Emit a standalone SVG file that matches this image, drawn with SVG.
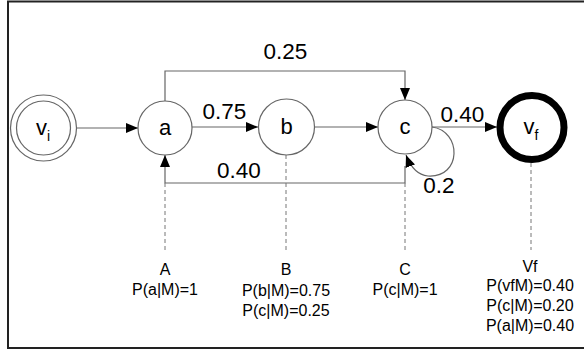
<svg xmlns="http://www.w3.org/2000/svg" width="584" height="349" viewBox="0 0 584 349">
<defs>
<marker id="arr" viewBox="0 0 12 10" refX="12" refY="5" markerWidth="12" markerHeight="10" markerUnits="userSpaceOnUse" orient="auto">
<path d="M0,0 L12,5 L0,10 Z" fill="#000"/>
</marker>
<style>
.ln{fill:none;stroke:#666;stroke-width:1.2}
.ds{fill:none;stroke:#777;stroke-width:1;stroke-dasharray:4,3}
.nd{fill:#fff;stroke:#666;stroke-width:1.2}
.nt{font-family:"Liberation Sans",Arial,sans-serif;font-size:22px;fill:#000;text-anchor:middle}
.el{font-family:"Liberation Sans",Arial,sans-serif;font-size:22.5px;fill:#000;text-anchor:middle}
.lb{font-family:"Liberation Sans",Arial,sans-serif;font-size:16px;fill:#000;text-anchor:middle}
</style>
</defs>
<rect x="8" y="1.5" width="590" height="346.5" fill="#fff" stroke="#222" stroke-width="2"/>
<g id="connectors">
<path class="ln" d="M77,128 H138" marker-end="url(#arr)"/>
<path class="ln" d="M192,127 H258" marker-end="url(#arr)"/>
<path class="ln" d="M315,127 H378" marker-end="url(#arr)"/>
<path class="ln" d="M432,127 H497" marker-end="url(#arr)"/>
<path class="ln" d="M165,101 V71 H405 V100" marker-end="url(#arr)"/>
<path class="ln" d="M405,166 V183 H165 V155" marker-end="url(#arr)"/>
<path class="ln" d="M432,127 C462,131 462,178 428,176 C418,175 411,168 406,155" marker-end="url(#arr)"/>
<path class="ds" d="M165,183 V250"/>
<path class="ds" d="M286,155 V250"/>
<path class="ds" d="M405,183 V250"/>
<path class="ds" d="M531,163 V250"/>
<text class="el" x="285.5" y="59">0.25</text>
<text class="el" x="224.5" y="119">0.75</text>
<text class="el" x="239" y="178">0.40</text>
<text class="el" x="462.5" y="122">0.40</text>
<text class="el" x="439" y="193">0.2</text>
</g>
<g id="vi">
<circle class="nd" cx="43.5" cy="128" r="33"/>
<circle class="nd" cx="43.5" cy="128" r="27"/>
<text class="nt" x="43" y="135">v<tspan font-size="14" dy="6">i</tspan></text>
</g>
<g id="a">
<circle class="nd" cx="165" cy="128" r="27"/>
<text class="nt" x="165" y="135">a</text>
</g>
<g id="b">
<circle class="nd" cx="286.5" cy="127" r="28"/>
<text class="nt" x="286.5" y="134">b</text>
</g>
<g id="c">
<circle class="nd" cx="405" cy="127" r="27"/>
<text class="nt" x="405" y="134">c</text>
</g>
<g id="vf">
<circle cx="532" cy="127.5" r="32" fill="#fff" stroke="#000" stroke-width="7"/>
<text class="nt" x="531" y="134">v<tspan font-size="14" dy="6">f</tspan></text>
</g>
<g id="labelA">
<text class="lb" x="165" y="275">A</text>
<text class="lb" x="165" y="295">P(a|M)=1</text>
</g>
<g id="labelB">
<text class="lb" x="286" y="275">B</text>
<text class="lb" x="286" y="296">P(b|M)=0.75</text>
<text class="lb" x="286" y="316">P(c|M)=0.25</text>
</g>
<g id="labelC">
<text class="lb" x="405" y="275">C</text>
<text class="lb" x="405" y="295">P(c|M)=1</text>
</g>
<g id="labelVf">
<text class="lb" x="530" y="272">Vf</text>
<text class="lb" x="530" y="291">P(vfM)=0.40</text>
<text class="lb" x="530" y="311">P(c|M)=0.20</text>
<text class="lb" x="530" y="331">P(a|M)=0.40</text>
</g>
</svg>
